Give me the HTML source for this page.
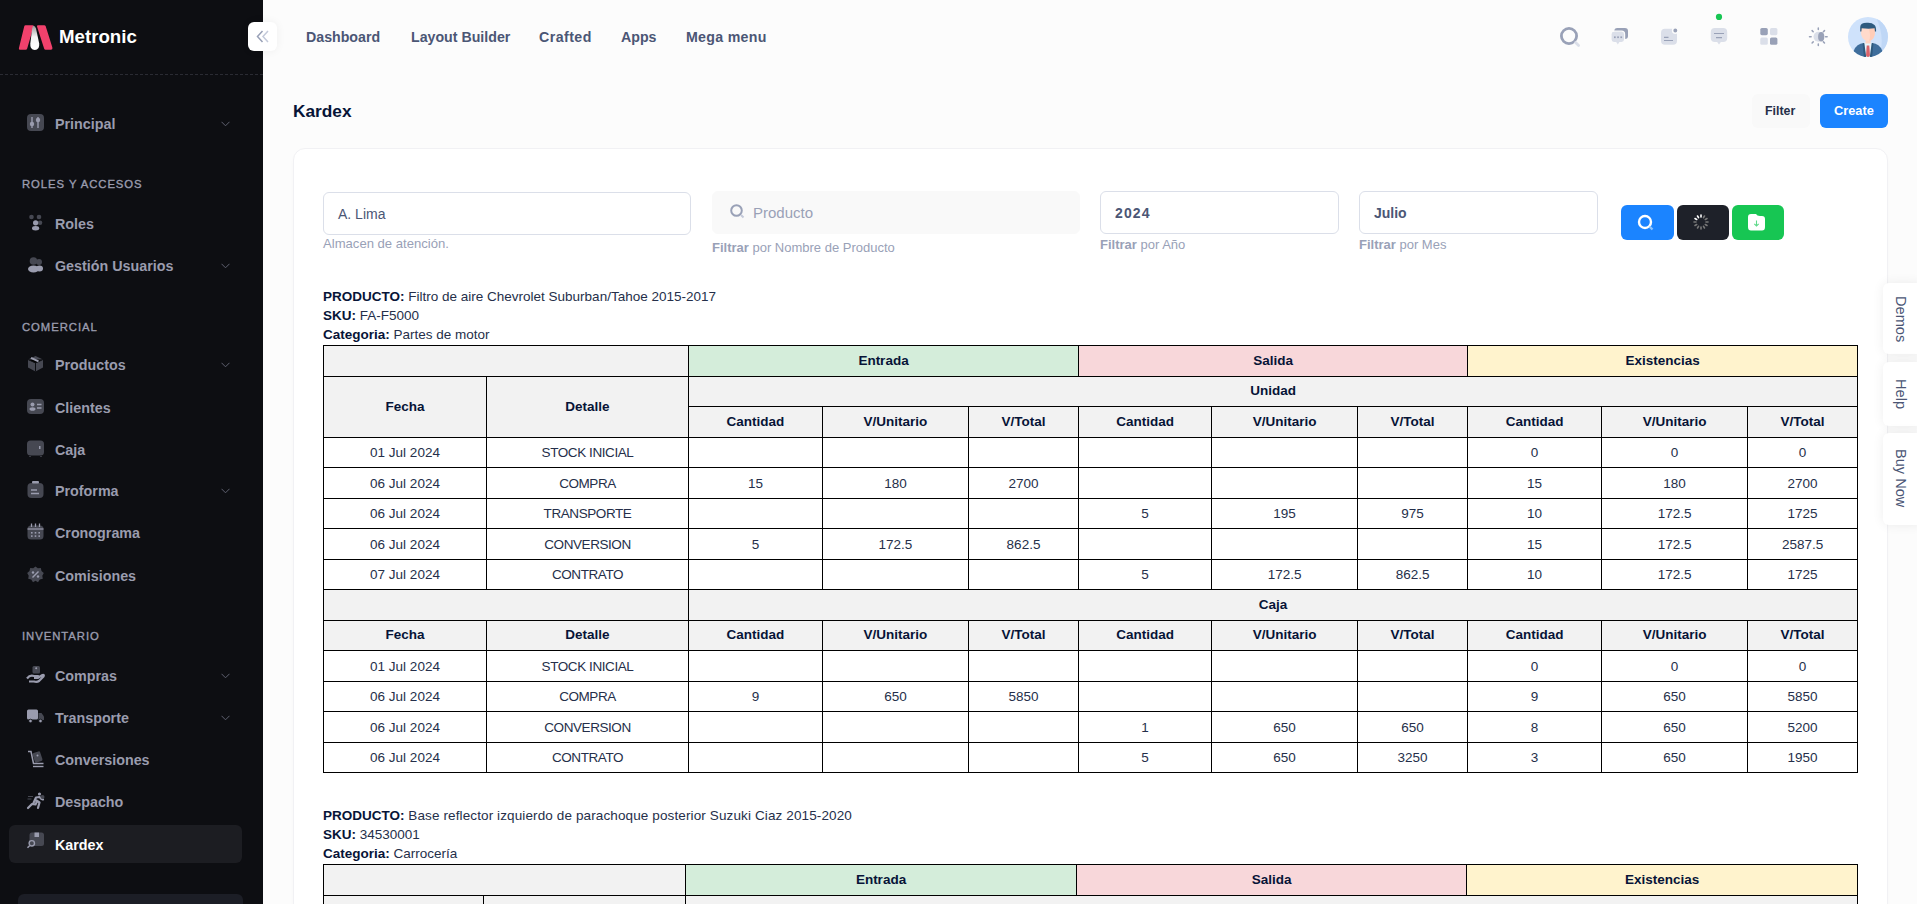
<!DOCTYPE html>
<html><head><meta charset="utf-8"><title>Kardex</title>
<style>
*{box-sizing:border-box;margin:0;padding:0}
html,body{width:1917px;height:904px;overflow:hidden}
body{background:#FCFCFC;font-family:"Liberation Sans",sans-serif;color:#071437;position:relative}
.abs{position:absolute}
#sb{position:absolute;left:0;top:0;width:263px;height:904px;background:#0D0E12;overflow:hidden}
#sb .logo{position:absolute;left:0;top:0;width:263px;height:75px;border-bottom:1px dashed #2A2B33}
#sb .brand{position:absolute;left:59px;top:26px;font-size:18.7px;font-weight:700;color:#fff}
.mi{position:absolute;left:9px;width:233px;height:38px;border-radius:6px}
.mi .ic{position:absolute;left:18px;top:9px;width:17px;height:17px;overflow:visible}
.mi .tx{position:absolute;left:46px;top:11px;font-size:14.3px;font-weight:700;color:#9A9CAE;white-space:nowrap}
.mi .ch{position:absolute;left:212px;top:16px;width:9px;height:6px}
.mi.act{background:#1C1D22}
.mi.act .tx{color:#fff}
.mh{position:absolute;left:22px;font-size:11.3px;font-weight:400;-webkit-text-stroke:0.35px #9A9CAE;letter-spacing:0.95px;color:#9A9CAE;white-space:nowrap}
#tog{position:absolute;left:248px;top:22px;width:29px;height:29px;background:#fff;border-radius:6px;box-shadow:0 0 10px rgba(0,0,0,.06)}
.hm{position:absolute;top:29px;font-size:14.2px;font-weight:700;color:#4B5675;white-space:nowrap}
#card{position:absolute;left:293px;top:148px;width:1595px;height:800px;background:#fff;border:1px solid #F1F1F4;border-radius:12px;box-shadow:0 3px 4px rgba(0,0,0,.02)}
.inp{position:absolute;height:43px;border:1px solid #DBDFE9;border-radius:6px;background:#fff}
.inp .v{position:absolute;left:14px;top:13px;font-size:14px;color:#4B5675;white-space:nowrap}
.hint{position:absolute;font-size:13px;color:#99A1B7;white-space:nowrap}
.btn{position:absolute;border-radius:6px}
.tab{position:absolute;left:1883px;width:40px;background:#fff;border-radius:6px;box-shadow:0 0 12px rgba(0,0,0,.07)}
.tab span{position:absolute;left:9.5px;writing-mode:vertical-rl;font-size:14.6px;color:#4B5675;white-space:nowrap}
.info{position:absolute;left:323px;font-size:13.5px;color:#252F4A;white-space:nowrap;line-height:16px}
.info b{color:#071437}
table.kt{position:absolute;border-collapse:collapse;table-layout:fixed;font-size:13.5px;color:#071437}
table.kt th,table.kt td{border:1px solid #000;text-align:center;padding:0;white-space:nowrap}
table.kt th{background:#F2F2F2;font-weight:700;font-size:13.5px;padding-bottom:2px}
table.kt td{background:#fff;color:#252F4A}
table.kt td.dt{letter-spacing:-0.42px}
table.kt th.g{background:#D4EDDA}
table.kt th.p{background:#F8D7DA}
table.kt th.y{background:#FFF3CD}
tr.r30{height:30px}
tr.r31{height:31px}
</style></head>
<body>
<div id="sb">
  <div class="logo">
    <svg class="abs" style="left:0px;top:0px" width="60" height="60" viewBox="0 0 60 60">
      <defs><linearGradient id="lg" x1="0" y1="0" x2="0" y2="1"><stop offset="0" stop-color="#9A9A9A"/><stop offset="0.45" stop-color="#F4F4F4"/><stop offset="1" stop-color="#FFFFFF"/></linearGradient></defs>
      <path d="M25.5 25.2 H32.5 Q34 25.2 33.6 26.6 L27.2 48.6 Q26.9 49.8 25.6 49.8 H20.2 Q18.5 49.8 18.9 48.2 L24.2 26.4 Q24.5 25.2 25.5 25.2 Z" fill="#F1416C"/>
      <path d="M38.3 25.2 H44.2 Q45.3 25.2 45.7 26.3 L52.3 47.3 Q52.8 49.8 50.8 49.8 H45.6 Q44.5 49.8 44.2 48.8 L37 26.6 Q36.6 25.2 38.3 25.2 Z" fill="#F1416C"/>
      <path d="M33.6 25.8 Q35 26 36 28.5 L39.2 43.5 Q39.8 49.9 34.8 50 Q29.8 49.9 30.3 43.5 L32.2 28.5 Q32.6 25.9 33.6 25.8 Z" fill="url(#lg)"/>
    </svg>
    <div class="brand">Metronic</div>
  </div>
<div class="mi" style="top:105px"><svg class="ic" viewBox="0 0 17 17"><rect x="0" y="0" width="17" height="17" rx="4" fill="#464852"/><path d="M5 3v11M11 3v11" stroke="#9A9CAE" stroke-width="1.4"/><circle cx="5" cy="10" r="2.2" fill="#9A9CAE"/><circle cx="11" cy="6" r="2.2" fill="#9A9CAE"/></svg><div class="tx">Principal</div><svg class="ch" viewBox="0 0 9 6"><path d="M0.5 0.8 L4.5 4.8 L8.5 0.8" stroke="#5F6170" stroke-width="1" fill="none"/></svg></div>
<div class="mh" style="top:178.2px">ROLES Y ACCESOS</div>
<div class="mi" style="top:205px"><svg class="ic" viewBox="0 0 17 17"><circle cx="4.5" cy="3" r="2.3" fill="#464852"/><circle cx="12" cy="3" r="2.3" fill="#464852"/><circle cx="13" cy="8.8" r="2.3" fill="#464852"/><circle cx="8.6" cy="8.8" r="2.6" fill="#9A9CAE"/><ellipse cx="8.6" cy="14.3" rx="3.6" ry="2.2" fill="#9A9CAE"/></svg><div class="tx">Roles</div></div>
<div class="mi" style="top:247px"><svg class="ic" viewBox="0 0 17 17"><circle cx="6.5" cy="5" r="3.8" fill="#464852"/><circle cx="12" cy="6" r="3" fill="#464852"/><ellipse cx="12.5" cy="12.5" rx="3.5" ry="3" fill="#9A9CAE"/><ellipse cx="6.5" cy="13" rx="5.5" ry="3.5" fill="#9A9CAE"/></svg><div class="tx">Gestión Usuarios</div><svg class="ch" viewBox="0 0 9 6"><path d="M0.5 0.8 L4.5 4.8 L8.5 0.8" stroke="#5F6170" stroke-width="1" fill="none"/></svg></div>
<div class="mh" style="top:320.6px">COMERCIAL</div>
<div class="mi" style="top:346px"><svg class="ic" viewBox="0 0 17 17"><path d="M8.5 1 L16 4.5 V12.5 L8.5 16.5 L1 12.5 V4.5 Z" fill="#464852"/><path d="M1 4.5 L8.5 8 L16 4.5 M8.5 8 V16.5" stroke="#0D0E12" stroke-width="1"/><path d="M4 2.8 L11.5 6.3" stroke="#9A9CAE" stroke-width="2"/></svg><div class="tx">Productos</div><svg class="ch" viewBox="0 0 9 6"><path d="M0.5 0.8 L4.5 4.8 L8.5 0.8" stroke="#5F6170" stroke-width="1" fill="none"/></svg></div>
<div class="mi" style="top:389px"><svg class="ic" viewBox="0 0 17 17"><rect x="0" y="1" width="17" height="15" rx="4" fill="#464852"/><circle cx="5.5" cy="6.5" r="2" fill="#9A9CAE"/><ellipse cx="5.5" cy="11" rx="3" ry="1.8" fill="#9A9CAE"/><path d="M10 6.5h4.5M10 10h4.5" stroke="#9A9CAE" stroke-width="1.4"/></svg><div class="tx">Clientes</div></div>
<div class="mi" style="top:431px"><svg class="ic" viewBox="0 0 17 17"><rect x="0" y="0.5" width="17" height="15" rx="3.5" fill="#464852"/><rect x="12" y="6" width="1.5" height="3" fill="#9A9CAE"/><path d="M3 16v1M14 16v1" stroke="#464852" stroke-width="1.5"/></svg><div class="tx">Caja</div></div>
<div class="mi" style="top:472px"><svg class="ic" viewBox="0 0 17 17"><rect x="0.5" y="2" width="16" height="15" rx="4" fill="#464852"/><rect x="5" y="0" width="7" height="2.5" rx="1" fill="#9A9CAE"/><path d="M4 9h6M4 12.5h8" stroke="#9A9CAE" stroke-width="1.4"/></svg><div class="tx">Proforma</div><svg class="ch" viewBox="0 0 9 6"><path d="M0.5 0.8 L4.5 4.8 L8.5 0.8" stroke="#5F6170" stroke-width="1" fill="none"/></svg></div>
<div class="mi" style="top:514px"><svg class="ic" viewBox="0 0 17 17"><rect x="0.5" y="2.5" width="16" height="14" rx="3.5" fill="#464852"/><path d="M0.5 6h16" stroke="#9A9CAE" stroke-width="1.2"/><path d="M4.5 0.5v3.5M8.5 0.5v3.5M12.5 0.5v3.5" stroke="#9A9CAE" stroke-width="1.3"/><g fill="#9A9CAE"><rect x="4" y="9" width="1.6" height="1.6"/><rect x="7.7" y="9" width="1.6" height="1.6"/><rect x="11.4" y="9" width="1.6" height="1.6"/><rect x="4" y="12.3" width="1.6" height="1.6"/><rect x="7.7" y="12.3" width="1.6" height="1.6"/><rect x="11.4" y="12.3" width="1.6" height="1.6"/></g></svg><div class="tx">Cronograma</div></div>
<div class="mi" style="top:557px"><svg class="ic" viewBox="0 0 17 17"><path d="M8.5 0.5 L10.8 2.3 L13.8 2 L14.5 5 L16.8 7 L15.3 9.8 L15.8 12.8 L12.8 13.6 L11 16.2 L8.5 14.8 L6 16.2 L4.2 13.6 L1.2 12.8 L1.7 9.8 L0.2 7 L2.5 5 L3.2 2 L6.2 2.3 Z" fill="#464852"/><path d="M5.5 11.5 L11.5 5.5" stroke="#9A9CAE" stroke-width="1.4"/><circle cx="6" cy="6.5" r="1.2" fill="#9A9CAE"/><circle cx="11" cy="10.5" r="1.2" fill="#9A9CAE"/></svg><div class="tx">Comisiones</div></div>
<div class="mh" style="top:630.4px">INVENTARIO</div>
<div class="mi" style="top:657px"><svg class="ic" viewBox="0 0 17 17"><rect x="5.5" y="0" width="7.5" height="7.5" rx="1.5" fill="#464852"/><circle cx="9.2" cy="2.2" r="1" fill="#9A9CAE"/><path d="M0 12.5 Q3 8.5 7 10 H11 Q12.5 10.5 11 11.8 H7 M11 11.8 L15.5 9 Q17.5 8.5 16.5 10.5 L12 15 Q10 16.5 7 15.5 L2 15.5" stroke="#9A9CAE" stroke-width="2.2" fill="none" stroke-linejoin="round"/></svg><div class="tx">Compras</div><svg class="ch" viewBox="0 0 9 6"><path d="M0.5 0.8 L4.5 4.8 L8.5 0.8" stroke="#5F6170" stroke-width="1" fill="none"/></svg></div>
<div class="mi" style="top:699px"><svg class="ic" viewBox="0 0 17 17"><rect x="0" y="1.5" width="11" height="10" rx="1.5" fill="#9A9CAE"/><path d="M11.5 5 H14.5 L17 8.5 V12 H11.5 Z" fill="#464852"/><circle cx="3.5" cy="13" r="1.8" fill="#9A9CAE" stroke="#0D0E12" stroke-width="0.8"/><circle cx="13.5" cy="13" r="1.8" fill="#9A9CAE" stroke="#0D0E12" stroke-width="0.8"/></svg><div class="tx">Transporte</div><svg class="ch" viewBox="0 0 9 6"><path d="M0.5 0.8 L4.5 4.8 L8.5 0.8" stroke="#5F6170" stroke-width="1" fill="none"/></svg></div>
<div class="mi" style="top:741px"><svg class="ic" viewBox="0 0 17 17"><rect x="6.5" y="2" width="8" height="10" rx="1.5" fill="#464852" transform="rotate(-18 10.5 7)"/><path d="M1 1.5 H4 L6.5 13.5 H16.5" stroke="#9A9CAE" stroke-width="1.5" fill="none"/><path d="M6 16.5 H16.5" stroke="#9A9CAE" stroke-width="1.4"/><circle cx="10.5" cy="5.5" r="1" fill="#9A9CAE"/></svg><div class="tx">Conversiones</div></div>
<div class="mi" style="top:783px"><svg class="ic" viewBox="0 0 17 17"><path d="M1 4.5h5M0.5 7h4" stroke="#464852" stroke-width="1"/><circle cx="12.5" cy="2" r="1.6" fill="#9A9CAE"/><path d="M1 16 L5 12 L8.5 12.5 L10 9.5 M6.5 11 L9 5.5 L12.5 5 L14.5 7 L16 7.5 M9.5 8.5 L12.5 10.5 L11 16" stroke="#9A9CAE" stroke-width="2.2" fill="none" stroke-linecap="round" stroke-linejoin="round"/><circle cx="15.5" cy="5" r="2" fill="#464852"/></svg><div class="tx">Despacho</div></div>
<div class="mi act" style="top:825px"><svg class="ic" style="top:7px" viewBox="0 0 17 17"><rect x="2.5" y="0.5" width="14.5" height="13.5" rx="2.5" fill="#464852"/><rect x="7.5" y="0.5" width="4.5" height="4.5" fill="#9A9CAE"/><circle cx="4.8" cy="11.3" r="2.7" fill="none" stroke="#9A9CAE" stroke-width="1.4"/><path d="M2.8 13.4 L0.5 15.8" stroke="#9A9CAE" stroke-width="1.5"/></svg><div class="tx" style="top:12px">Kardex</div></div>
<div class="abs" style="left:18px;top:894px;width:225px;height:40px;border-radius:6px;background:#1C1E26"></div>
</div>
<div id="tog">
  <svg class="abs" style="left:8px;top:8px" width="13" height="13" viewBox="0 0 13 13"><path d="M6.5 1 L1.5 6.5 L6.5 12" stroke="#99A1B7" stroke-width="1.5" fill="none"/><path d="M12 1 L7 6.5 L12 12" stroke="#C4CADA" stroke-width="1.5" fill="none"/></svg>
</div>
<div class="hm" style="left:306px">Dashboard</div>
<div class="hm" style="left:411px">Layout Builder</div>
<div class="hm" style="left:539px;letter-spacing:0.45px">Crafted</div>
<div class="hm" style="left:621px">Apps</div>
<div class="hm" style="left:686px;letter-spacing:0.3px">Mega menu</div>

<div class="abs" style="left:293px;top:101px;font-size:17.3px;font-weight:700;color:#071437">Kardex</div>
<svg class="abs" style="left:1540px;top:0px" width="377" height="70" viewBox="1540 0 377 70">
<circle cx="1569" cy="36" r="7.6" stroke="#99A1B7" stroke-width="2.8" fill="none"/>
<path d="M1575.6 42.6 L1578.6 45.6" stroke="#DBDFE9" stroke-width="2.8" stroke-linecap="round"/>
<rect x="1614.3" y="27.9" width="13.7" height="11" rx="3" fill="#99A1B7"/>
<rect x="1611" y="31.2" width="13.6" height="11.4" rx="3" fill="#DBDFE9" stroke="#FCFCFC" stroke-width="1.2"/>
<path d="M1616.2 42 L1619.4 42 L1617.8 44.4 Z" fill="#DBDFE9"/>
<rect x="1614" y="36.4" width="1.7" height="1.7" fill="#99A1B7"/><rect x="1617.2" y="36.4" width="1.7" height="1.7" fill="#99A1B7"/><rect x="1620.4" y="36.4" width="1.7" height="1.7" fill="#99A1B7"/>
<rect x="1661" y="28.8" width="16" height="16" rx="4" fill="#DBDFE9"/>
<circle cx="1675.3" cy="30.5" r="2.7" fill="#99A1B7" stroke="#FCFCFC" stroke-width="1.5"/>
<path d="M1664 37.4 H1668.5 M1664 40.5 H1673" stroke="#99A1B7" stroke-width="1.2"/>
<rect x="1710.8" y="28" width="16.4" height="14" rx="4" fill="#DBDFE9"/>
<path d="M1717 41.8 L1721 41.8 L1719 44.4 Z" fill="#DBDFE9"/>
<path d="M1714 33.5 H1724 M1716 37.7 H1722" stroke="#99A1B7" stroke-width="1.2"/>
<circle cx="1719" cy="16.9" r="3.1" fill="#17C653"/>
<rect x="1760.3" y="28" width="7.5" height="7.2" rx="1.6" fill="#99A1B7"/>
<rect x="1770" y="28" width="7.4" height="7.2" rx="1.6" fill="#DBDFE9"/>
<rect x="1760.3" y="37.5" width="7.5" height="7.3" rx="1.6" fill="#DBDFE9"/>
<rect x="1770" y="37.5" width="7.4" height="7.3" rx="1.6" fill="#99A1B7"/>
<g stroke="#99A1B7" stroke-width="1.5" stroke-linecap="round">
<path d="M1818.3 28 V29.6"/><path d="M1818.3 44 V45.6"/><path d="M1809.5 36.8 H1811.1"/><path d="M1825.5 36.8 H1827.1"/>
<path d="M1812.1 30.6 L1813.2 31.7"/><path d="M1823.4 41.9 L1824.5 43"/><path d="M1824.5 30.6 L1823.4 31.7"/><path d="M1813.2 41.9 L1812.1 43"/>
</g>
<circle cx="1818.5" cy="36.8" r="5" fill="#DBDFE9"/>
<ellipse cx="1821.2" cy="36.8" rx="3.1" ry="4.8" fill="#99A1B7"/>
<defs><clipPath id="av"><circle cx="1868" cy="37" r="20"/></clipPath></defs>
<g clip-path="url(#av)">
<rect x="1848" y="17" width="40" height="40" fill="#CFE2FB"/>
<path d="M1876 17 A20 20 0 0 1 1888 37 A20 20 0 0 1 1880 53 Q1885 37 1876 17 Z" fill="#BFD7F6"/>
<path d="M1852 60 Q1852.5 46 1861 43.5 L1875 43.5 Q1883.5 46 1884 60 Z" fill="#3F6E9C"/>
<path d="M1862.5 43 L1864.5 43 L1867 58 L1864 58 Z M1873.5 43 L1871.5 43 L1869 58 L1872 58 Z" fill="#2E5A7E"/>
<path d="M1864.3 42.5 H1871.7 L1869.8 57 H1866.2 Z" fill="#E9F4FA"/>
<path d="M1866.7 45.5 H1869.3 L1870 55.5 L1868 57.5 L1866 55.5 Z" fill="#D9636B"/>
<rect x="1865.5" y="38" width="5" height="5.5" fill="#FFD3C2"/>
<path d="M1860.8 29.5 Q1860.8 41 1868 41 Q1875.2 41 1875.2 29.5 Q1875.2 25 1868 25 Q1860.8 25 1860.8 29.5 Z" fill="#FFDACB"/>
<path d="M1868 26 Q1875.2 26 1875.2 30 Q1875 40.5 1869 41 Q1871.5 36 1868 26 Z" fill="#FFCDB8"/>
<path d="M1860.2 31.5 L1860.2 27 Q1860.5 22.5 1867.5 22.8 Q1872 22.6 1874.5 25 Q1876.3 26.8 1876.1 31.5 L1874.9 31.5 L1874.6 28.3 Q1868 29 1861.7 28.2 L1861.4 31.5 Z" fill="#2E5A7E"/>
</g>
</svg>
<div class="btn" style="left:1752px;top:94px;width:58px;height:34px;background:#F9F9F9"><span class="abs" style="left:13px;top:10px;font-size:12.4px;font-weight:700;color:#252F4A">Filter</span></div>
<div class="btn" style="left:1820px;top:94px;width:68px;height:34px;background:#1B84FF"><span class="abs" style="left:14px;top:9px;font-size:12.8px;font-weight:700;color:#fff">Create</span></div>

<div id="card"></div>

<div class="inp" style="left:323px;top:192px;width:368px"><span class="v">A. Lima</span></div>
<div class="hint" style="left:323px;top:236px;font-size:13.1px">Almacen de atención.</div>
<div class="inp" style="left:712px;top:191px;width:368px;background:#F9F9F9;border-color:#F9F9F9">
  <svg class="abs" style="left:17px;top:12px" width="15" height="15" viewBox="0 0 15 15"><circle cx="6.5" cy="6.5" r="5.3" stroke="#99A1B7" stroke-width="2" fill="none"/><path d="M11 11 L13.5 13.5" stroke="#C4CADA" stroke-width="2"/></svg>
  <span class="v" style="left:40px;top:12px;font-size:15px;color:#99A1B7">Producto</span></div>
<div class="hint" style="left:712px;top:240px"><b>Filtrar</b> por Nombre de Producto</div>
<div class="inp" style="left:1100px;top:191px;width:239px"><span class="v" style="font-weight:700;letter-spacing:1.1px">2024</span></div>
<div class="hint" style="left:1100px;top:237px"><b>Filtrar</b> por Año</div>
<div class="inp" style="left:1359px;top:191px;width:239px"><span class="v" style="font-weight:700">Julio</span></div>
<div class="hint" style="left:1359px;top:237px"><b>Filtrar</b> por Mes</div>

<div class="btn" style="left:1621px;top:205px;width:53px;height:35px;background:#1B84FF">
  <svg class="abs" style="left:16px;top:9px" width="20" height="20" viewBox="0 0 20 20"><circle cx="8" cy="8" r="6" stroke="#fff" stroke-width="2.4" fill="none"/><path d="M12.5 12.5 L15.5 15.5" stroke="#8CC3FF" stroke-width="2.4"/></svg>
</div>
<div class="btn" style="left:1677px;top:205px;width:52px;height:35px;background:#1E2129">
  <svg class="abs" style="left:14px;top:7px" width="20" height="20" viewBox="0 0 20 20"><g stroke-width="1.6" stroke-linecap="round">
  <path d="M10 3 V5" stroke="#fff"/><path d="M6.5 4 L7.5 5.7" stroke="#fff"/><path d="M4 6.5 L5.7 7.5" stroke="#fff"/><path d="M13.5 4 L12.5 5.7" stroke="#777"/><path d="M16 6.5 L14.3 7.5" stroke="#777"/><path d="M17 10 H15" stroke="#777"/><path d="M16 13.5 L14.3 12.5" stroke="#777"/><path d="M13.5 16 L12.5 14.3" stroke="#777"/><path d="M10 17 V15" stroke="#777"/><path d="M6.5 16 L7.5 14.3" stroke="#777"/><path d="M4 13.5 L5.7 12.5" stroke="#777"/><path d="M3 10 H5" stroke="#777"/></g></svg>
</div>
<div class="btn" style="left:1732px;top:205px;width:52px;height:35px;background:#17C653">
  <svg class="abs" style="left:15px;top:9px" width="20" height="18" viewBox="0 0 20 18"><path d="M1 3 Q1 0 4 0 H9 Q10 2 13 2 H15 Q18 2 18 5 V13 Q18 16.5 15 16.5 H4 Q1 16.5 1 13 Z" fill="#fff"/><path d="M9.5 6.5 V12 M7.3 9.8 L9.5 12 L11.7 9.8" stroke="#5FD98A" stroke-width="1.1" fill="none"/></svg>
</div>

<div class="info" style="top:289px"><b>PRODUCTO:</b> <span style="letter-spacing:0px">Filtro de aire Chevrolet Suburban/Tahoe 2015-2017</span></div><div class="info" style="top:308.2px"><b>SKU:</b> FA-F5000</div><div class="info" style="top:327.4px"><b>Categoria:</b> Partes de motor</div><div class="info" style="top:807.5px"><b>PRODUCTO:</b> <span style="letter-spacing:0.12px">Base reflector izquierdo de parachoque posterior Suzuki Ciaz 2015-2020</span></div><div class="info" style="top:826.7px"><b>SKU:</b> 34530001</div><div class="info" style="top:845.9px"><b>Categoria:</b> Carrocería</div>
<table class="kt" style="left:323px;top:345px;width:1535px"><colgroup><col style="width:163px"><col style="width:202px"><col style="width:134px"><col style="width:146px"><col style="width:110px"><col style="width:133px"><col style="width:146px"><col style="width:110px"><col style="width:134px"><col style="width:146px"><col style="width:110px"></colgroup>
<tr class="r31"><th colspan="2"></th><th colspan="3" class="g">Entrada</th><th colspan="3" class="p">Salida</th><th colspan="3" class="y">Existencias</th></tr>
<tr class="r30"><th rowspan="2">Fecha</th><th rowspan="2">Detalle</th><th colspan="9">Unidad</th></tr><tr class="r31"><th>Cantidad</th><th>V/Unitario</th><th>V/Total</th><th>Cantidad</th><th>V/Unitario</th><th>V/Total</th><th>Cantidad</th><th>V/Unitario</th><th>V/Total</th></tr>
<tr class="r30"><td>01 Jul 2024</td><td class="dt">STOCK INICIAL</td><td></td><td></td><td></td><td></td><td></td><td></td><td>0</td><td>0</td><td>0</td></tr>
<tr class="r31"><td>06 Jul 2024</td><td class="dt">COMPRA</td><td>15</td><td>180</td><td>2700</td><td></td><td></td><td></td><td>15</td><td>180</td><td>2700</td></tr>
<tr class="r30"><td>06 Jul 2024</td><td class="dt">TRANSPORTE</td><td></td><td></td><td></td><td>5</td><td>195</td><td>975</td><td>10</td><td>172.5</td><td>1725</td></tr>
<tr class="r31"><td>06 Jul 2024</td><td class="dt">CONVERSION</td><td>5</td><td>172.5</td><td>862.5</td><td></td><td></td><td></td><td>15</td><td>172.5</td><td>2587.5</td></tr>
<tr class="r30"><td>07 Jul 2024</td><td class="dt">CONTRATO</td><td></td><td></td><td></td><td>5</td><td>172.5</td><td>862.5</td><td>10</td><td>172.5</td><td>1725</td></tr>
<tr class="r31"><th colspan="2"></th><th colspan="9">Caja</th></tr>
<tr class="r30"><th>Fecha</th><th>Detalle</th><th>Cantidad</th><th>V/Unitario</th><th>V/Total</th><th>Cantidad</th><th>V/Unitario</th><th>V/Total</th><th>Cantidad</th><th>V/Unitario</th><th>V/Total</th></tr>
<tr class="r31"><td>01 Jul 2024</td><td class="dt">STOCK INICIAL</td><td></td><td></td><td></td><td></td><td></td><td></td><td>0</td><td>0</td><td>0</td></tr>
<tr class="r30"><td>06 Jul 2024</td><td class="dt">COMPRA</td><td>9</td><td>650</td><td>5850</td><td></td><td></td><td></td><td>9</td><td>650</td><td>5850</td></tr>
<tr class="r31"><td>06 Jul 2024</td><td class="dt">CONVERSION</td><td></td><td></td><td></td><td>1</td><td>650</td><td>650</td><td>8</td><td>650</td><td>5200</td></tr>
<tr class="r30"><td>06 Jul 2024</td><td class="dt">CONTRATO</td><td></td><td></td><td></td><td>5</td><td>650</td><td>3250</td><td>3</td><td>650</td><td>1950</td></tr>
</table>
<table class="kt" style="left:323px;top:864px;width:1535px"><colgroup><col style="width:160px"><col style="width:202px"><col style="width:134px"><col style="width:146px"><col style="width:111px"><col style="width:133px"><col style="width:146px"><col style="width:111px"><col style="width:134px"><col style="width:146px"><col style="width:111px"></colgroup>
<tr class="r31"><th colspan="2"></th><th colspan="3" class="g">Entrada</th><th colspan="3" class="p">Salida</th><th colspan="3" class="y">Existencias</th></tr>
<tr class="r30"><th rowspan="2">Fecha</th><th rowspan="2">Detalle</th><th colspan="9">Unidad</th></tr><tr class="r31"><th>Cantidad</th><th>V/Unitario</th><th>V/Total</th><th>Cantidad</th><th>V/Unitario</th><th>V/Total</th><th>Cantidad</th><th>V/Unitario</th><th>V/Total</th></tr>
<tr class="r30"><td>01 Jul 2024</td><td class="dt">STOCK INICIAL</td><td></td><td></td><td></td><td></td><td></td><td></td><td>0</td><td>0</td><td>0</td></tr>
<tr class="r31"><td>06 Jul 2024</td><td class="dt">COMPRA</td><td></td><td></td><td></td><td></td><td></td><td></td><td></td><td></td><td></td></tr>
<tr class="r31"><th colspan="2"></th><th colspan="9">Caja</th></tr>
<tr class="r30"><th>Fecha</th><th>Detalle</th><th>Cantidad</th><th>V/Unitario</th><th>V/Total</th><th>Cantidad</th><th>V/Unitario</th><th>V/Total</th><th>Cantidad</th><th>V/Unitario</th><th>V/Total</th></tr>
</table>

<div class="tab" style="top:283px;height:71px"><span style="top:13px">Demos</span></div>
<div class="tab" style="top:362px;height:64px"><span style="top:17px">Help</span></div>
<div class="tab" style="top:433px;height:92px"><span style="top:16px">Buy Now</span></div>
</body></html>
